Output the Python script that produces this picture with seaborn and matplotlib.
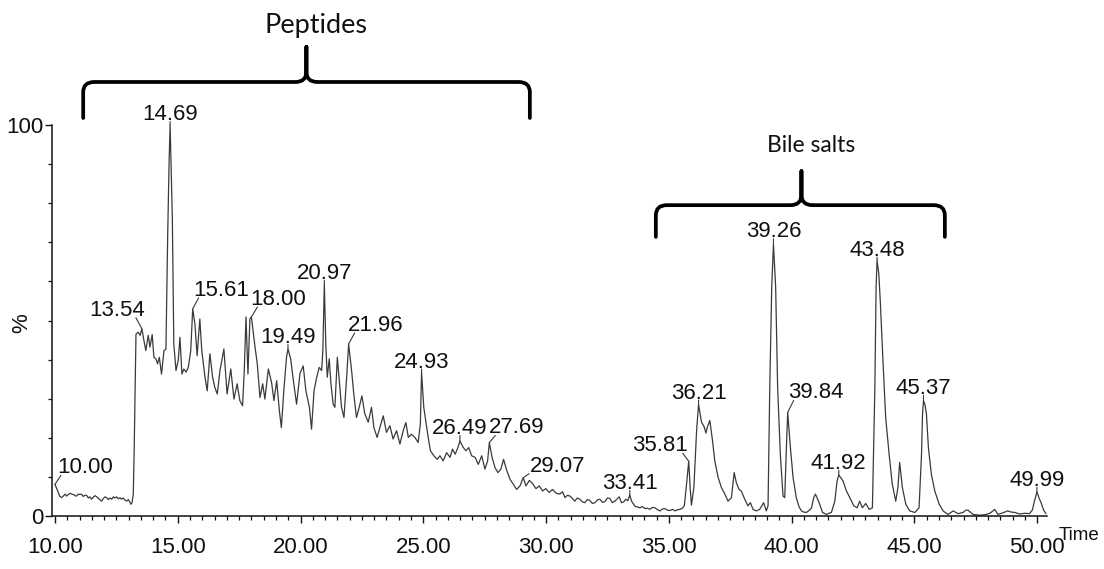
import numpy as np
import pandas as pd
import seaborn as sns
import matplotlib
matplotlib.use("Agg")
import matplotlib.pyplot as plt
from matplotlib.path import Path
from matplotlib.patches import PathPatch

# ---------------------------------------------------------------------------
# Total ion chromatogram: (retention time [min], relative abundance [%])
# ---------------------------------------------------------------------------
trace_baseline = [
    (10.00, 8.1), (10.07, 7.0), (10.13, 6.0), (10.20, 5.0), (10.27, 4.7), (10.35, 5.2),
    (10.42, 5.6), (10.47, 5.1), (10.55, 5.5), (10.62, 5.8), (10.68, 5.6), (10.75, 5.5),
    (10.82, 5.2), (10.88, 5.1), (10.95, 5.6), (11.02, 5.5), (11.08, 5.6), (11.15, 5.0),
    (11.22, 5.3), (11.29, 5.3), (11.36, 4.6), (11.42, 4.9), (11.49, 4.3), (11.56, 4.8),
    (11.63, 5.2), (11.70, 4.9), (11.77, 4.5), (11.83, 4.2), (11.90, 3.8), (11.97, 4.5),
    (12.04, 4.9), (12.10, 4.7), (12.17, 4.2), (12.24, 4.6), (12.31, 4.3), (12.38, 4.9),
    (12.44, 4.6), (12.51, 4.9), (12.58, 4.4), (12.65, 4.7), (12.71, 4.3), (12.78, 4.6),
    (12.85, 4.1), (12.92, 3.8), (12.99, 4.2), (13.05, 3.6), (13.09, 3.0), (13.14, 3.4),
    (13.19, 5.6), (13.23, 18.0), (13.26, 29.5), (13.30, 46.5),
]

trace_peptides_early = [
    (13.39, 47.0), (13.47, 46.2), (13.54, 47.9), (13.62, 45.0), (13.70, 42.3), (13.80, 46.2),
    (13.87, 43.2), (13.96, 46.4), (14.03, 40.6), (14.11, 40.2), (14.18, 38.9), (14.25, 40.6),
    (14.34, 36.3), (14.44, 42.3), (14.52, 42.7), (14.59, 71.3), (14.65, 91.0), (14.69, 100.0),
    (14.78, 76.4), (14.84, 44.0), (14.93, 37.2), (15.02, 39.8), (15.09, 45.7), (15.17, 36.3),
    (15.25, 37.6), (15.34, 36.8), (15.43, 38.0), (15.53, 42.3), (15.61, 53.0), (15.70, 49.1),
    (15.79, 41.0), (15.90, 50.4), (15.98, 42.3), (16.11, 35.5), (16.20, 32.0), (16.31, 41.5),
    (16.42, 35.5), (16.51, 32.9), (16.61, 31.2), (16.72, 37.2), (16.88, 42.7), (17.01, 31.2),
    (17.16, 37.6), (17.29, 29.9), (17.42, 33.8), (17.53, 29.5), (17.64, 28.2), (17.71, 37.2),
    (17.78, 50.9), (17.86, 36.3), (17.94, 50.4), (18.00, 50.9), (18.14, 43.6), (18.24, 38.9),
    (18.35, 30.3), (18.46, 33.8), (18.55, 29.9), (18.69, 37.6), (18.82, 34.2), (18.92, 29.5),
    (19.03, 34.6), (19.14, 26.9), (19.22, 22.6), (19.32, 32.0), (19.43, 40.6), (19.49, 42.7),
    (19.60, 40.2), (19.71, 34.6), (19.84, 28.6), (19.98, 36.5),
]

trace_peptides_late = [
    (20.11, 38.4), (20.22, 32.0), (20.36, 27.9), (20.45, 22.2), (20.55, 32.0), (20.66, 35.5),
    (20.76, 38.0), (20.86, 37.2), (20.91, 42.3), (20.97, 59.4), (21.03, 44.0), (21.09, 35.5),
    (21.17, 40.2), (21.24, 33.8), (21.33, 28.6), (21.40, 27.8), (21.50, 40.6), (21.58, 34.6),
    (21.67, 27.8), (21.77, 25.2), (21.88, 35.5), (21.96, 44.0), (22.08, 37.2), (22.17, 31.2),
    (22.28, 25.2), (22.39, 27.8), (22.50, 30.7), (22.62, 26.1), (22.76, 24.0), (22.89, 27.8),
    (22.99, 22.6), (23.12, 20.1), (23.23, 22.6), (23.37, 25.6), (23.50, 21.4), (23.64, 23.1),
    (23.77, 19.7), (23.91, 21.8), (24.05, 18.4), (24.18, 21.8), (24.29, 23.9), (24.39, 20.1),
    (24.52, 20.9), (24.66, 20.1), (24.79, 18.8), (24.88, 23.5), (24.93, 36.7), (25.02, 27.8),
    (25.10, 24.4), (25.20, 20.1), (25.29, 16.7), (25.43, 15.4), (25.57, 14.5), (25.68, 15.4),
    (25.81, 14.1), (25.95, 16.2), (26.09, 15.0), (26.19, 17.1), (26.30, 15.8), (26.41, 17.5),
    (26.49, 19.2), (26.63, 17.5), (26.74, 16.7), (26.85, 17.5), (26.97, 15.4), (27.11, 15.0),
    (27.24, 13.2), (27.38, 15.4), (27.51, 12.0), (27.62, 14.1), (27.69, 18.8), (27.80, 15.0),
    (27.92, 12.4), (28.04, 11.1), (28.16, 12.0), (28.27, 14.5), (28.38, 12.0), (28.53, 9.4),
    (28.67, 8.1), (28.80, 6.8), (28.94, 7.7), (29.07, 9.8), (29.18, 7.7), (29.32, 9.1),
    (29.45, 8.3), (29.59, 7.0), (29.72, 7.7), (29.86, 6.4), (29.99, 7.0), (30.13, 6.0),
    (30.26, 6.8),
]

trace_middle = [
    (30.42, 5.8), (30.56, 5.6), (30.67, 6.2), (30.77, 4.7), (30.87, 5.3), (30.97, 5.1),
    (31.07, 4.5), (31.17, 3.8), (31.27, 4.6), (31.38, 4.3), (31.48, 3.6), (31.58, 3.4),
    (31.68, 4.2), (31.78, 4.0), (31.89, 3.2), (31.99, 3.4), (32.09, 4.1), (32.19, 4.3),
    (32.30, 3.5), (32.40, 3.7), (32.50, 4.6), (32.60, 4.5), (32.70, 3.4), (32.80, 3.8),
    (32.90, 4.4), (32.98, 4.9), (33.07, 3.4), (33.16, 3.6), (33.25, 4.3), (33.33, 3.9),
    (33.41, 5.4), (33.48, 3.8), (33.62, 2.5), (33.72, 2.3), (33.82, 2.1), (33.92, 2.4),
    (34.03, 1.9), (34.13, 2.0), (34.23, 1.7), (34.33, 2.2), (34.43, 2.1), (34.54, 1.6),
    (34.64, 1.3), (34.74, 1.8), (34.84, 1.9), (34.94, 1.5), (35.04, 1.4), (35.15, 1.7),
    (35.25, 1.3), (35.35, 1.6), (35.45, 1.7), (35.55, 2.0), (35.63, 2.6), (35.72, 8.1),
    (35.81, 14.0), (35.87, 7.0), (35.92, 2.8), (36.02, 7.3), (36.13, 21.8), (36.21, 28.5),
    (36.33, 24.0), (36.44, 22.8), (36.51, 21.2), (36.57, 22.8), (36.67, 24.4), (36.78, 19.2),
    (36.87, 14.1), (37.01, 9.8), (37.14, 7.3), (37.28, 5.6), (37.41, 3.8), (37.55, 4.7),
    (37.66, 11.1), (37.75, 8.5), (37.86, 6.8), (37.95, 6.4), (38.09, 4.3), (38.22, 2.6),
    (38.32, 3.4), (38.43, 1.7), (38.56, 1.3), (38.70, 1.7), (38.86, 3.4), (38.97, 1.3),
    (39.04, 2.6),
]

trace_bile_salts = [
    (39.11, 32.9), (39.19, 58.5), (39.26, 69.5), (39.35, 58.5), (39.43, 32.9), (39.54, 15.8),
    (39.65, 5.1), (39.72, 4.7), (39.79, 18.0), (39.84, 26.5), (39.95, 17.5), (40.06, 9.8),
    (40.19, 4.7), (40.30, 2.4), (40.40, 1.3), (40.50, 1.0), (40.60, 0.9), (40.71, 1.4),
    (40.81, 2.1), (40.90, 4.7), (40.97, 5.6), (41.06, 4.3), (41.12, 3.4), (41.26, 0.9),
    (41.42, 0.4), (41.52, 0.7), (41.62, 0.9), (41.76, 3.8), (41.85, 8.9), (41.92, 10.5),
    (42.02, 9.6), (42.10, 8.9), (42.23, 6.4), (42.37, 4.7), (42.53, 2.6), (42.67, 2.1),
    (42.77, 3.8), (42.88, 2.1), (43.02, 3.2), (43.16, 1.7), (43.29, 2.1), (43.39, 32.9),
    (43.44, 58.5), (43.48, 65.3), (43.55, 62.0), (43.61, 55.0), (43.72, 39.7), (43.83, 25.2),
    (43.97, 15.8), (44.10, 8.1), (44.24, 3.8), (44.33, 7.3), (44.40, 13.7), (44.51, 7.3),
    (44.65, 3.0), (44.81, 1.3), (45.02, 0.9), (45.19, 2.1), (45.29, 15.8), (45.33, 26.0),
    (45.37, 29.5), (45.43, 28.5), (45.49, 26.1), (45.57, 17.5), (45.69, 10.7), (45.83, 6.4),
    (46.01, 3.0), (46.17, 1.3), (46.37, 0.4), (46.58, 1.3), (46.78, 0.6), (46.98, 0.9),
    (47.10, 1.5), (47.18, 1.5), (47.39, 0.4), (47.66, 0.2), (47.93, 0.4), (48.10, 0.8),
    (48.27, 1.7), (48.40, 0.4), (48.60, 0.8), (48.80, 1.3), (48.95, 1.0), (49.10, 0.9),
    (49.28, 0.5), (49.50, 0.7), (49.69, 0.6), (49.80, 1.5), (49.89, 3.8), (49.99, 6.2),
    (50.08, 4.5), (50.16, 3.4), (50.26, 1.5), (50.36, 0.6),
]

# Retention times printed above the peaks
peak_labels = [10.00, 13.54, 14.69, 15.61, 18.00, 19.49, 20.97, 21.96, 24.93, 26.49, 27.69,
               29.07, 33.41, 35.81, 36.21, 39.26, 39.84, 41.92, 43.48, 45.37, 49.99]

# Axis ticks
x_ticks = [10, 15, 20, 25, 30, 35, 40, 45, 50]
x_tick_labels = ["10.00", "15.00", "20.00", "25.00", "30.00", "35.00", "40.00", "45.00", "50.00"]
y_ticks = [0, 100]
y_tick_labels = ["0", "100"]

# Compound classes marked with braces: (name, start, end)
regions = [("Peptides", 11.15, 29.34), ("Bile salts", 34.47, 46.24)]

# ---------------------------------------------------------------------------
# Layout
# ---------------------------------------------------------------------------
# text offset (pixels, baseline-centre relative to the peak apex)
label_offsets = {
    10.00: (30, 11), 13.54: (-25, 13), 14.69: (0, 5), 15.61: (28, 13), 18.00: (27, 12),
    19.49: (0, 6), 20.97: (0, 5), 21.96: (27, 13), 24.93: (0, 5), 26.49: (0, 7),
    27.69: (27, 9), 29.07: (34, 6), 33.41: (0, 6), 35.81: (-29, 10), 36.21: (0, 6),
    39.26: (0, 7), 39.84: (28, 14), 41.92: (0, 6), 43.48: (0, 5), 45.37: (0, 7), 49.99: (0, 6),
}
# brace geometry per region: (centre, y of the ends, y of the bar, y of the tip,
#                             label x, label y, label size)
brace_geometry = {
    "Peptides": (20.24, 101.8, 111.0, 120.0, 20.63, 123.6, 19.5),
    "Bile salts": (40.40, 71.4, 79.5, 88.2, 40.81, 93.2, 16.5),
}

W, H = 1104, 569
TRACE = "#3a3a3a"
INK = "#111111"

sns.set_style("ticks")
plt.rcParams["font.family"] = ["Liberation Sans", "DejaVu Sans"]
plt.rcParams["axes.edgecolor"] = INK

fig = plt.figure(figsize=(W / 100, H / 100), dpi=100)
ax = fig.add_axes([52 / W, 1 - 516 / H, (1047 - 52) / W, (516 - 125) / H])

segments = [trace_baseline, trace_peptides_early, trace_peptides_late, trace_middle, trace_bile_salts]
points = [p for seg in segments for p in seg]
df = pd.DataFrame(points, columns=["time", "abundance"])

sns.lineplot(data=df, x="time", y="abundance", ax=ax, color=TRACE, lw=0.9,
             estimator=None, sort=False, clip_on=False)

ax.set_xlim(9.88, 50.4)
ax.set_ylim(0, 100)
ax.set_xlabel("")
ax.set_ylabel("")
sns.despine(ax=ax)
for side in ("left", "bottom"):
    ax.spines[side].set_linewidth(1.1)

ax.set_xticks(x_ticks)
ax.set_xticklabels(x_tick_labels)
ax.set_xticks(np.arange(10, 50.01, 0.5), minor=True)
ax.set_yticks(y_ticks)
ax.set_yticklabels(y_tick_labels)
ax.set_yticks(np.arange(10, 91, 10), minor=True)
ax.tick_params(axis="both", which="major", direction="out", length=5, width=1,
               colors=INK, labelsize=16, pad=1)
ax.tick_params(axis="both", which="minor", direction="out", length=3, width=0.9, colors=INK)
ax.tick_params(axis="x", which="major", pad=10)

# peak retention-time labels with short leader lines
times = df["time"].to_numpy()
vals = df["abundance"].to_numpy()
for t in peak_labels:
    i = int(np.argmin(np.abs(times - t)))
    y = vals[i]
    dx, dy = label_offsets[t]
    ax.annotate(f"{t:.2f}", xy=(t, y), xytext=(dx, dy), textcoords="offset pixels",
                ha="center", va="baseline", fontsize=16, color=INK, annotation_clip=False)
    lx = 0 if dx == 0 else 6 * np.sign(dx)
    ly = dy - 1.5 if dx == 0 else dy - 2
    ax.annotate("", xy=(t, y), xytext=(lx, ly), textcoords="offset pixels",
                annotation_clip=False,
                arrowprops=dict(arrowstyle="-", lw=0.8, color=TRACE, shrinkA=0, shrinkB=0))

# curly braces marking the compound classes
rx, ry = 0.45, 2.6
for name, x0, x1 in regions:
    xm, y_end, y_bar, y_tip, tx, ty, size = brace_geometry[name]
    verts = [
        (x0, y_end), (x0, y_bar - ry), (x0, y_bar), (x0 + rx, y_bar),
        (xm - rx, y_bar), (xm, y_bar), (xm, y_bar + ry), (xm, y_tip),
        (xm, y_bar + ry), (xm, y_bar), (xm + rx, y_bar),
        (x1 - rx, y_bar), (x1, y_bar), (x1, y_bar - ry), (x1, y_end),
    ]
    codes = [
        Path.MOVETO, Path.LINETO, Path.CURVE3, Path.CURVE3,
        Path.LINETO, Path.CURVE3, Path.CURVE3, Path.LINETO,
        Path.LINETO, Path.CURVE3, Path.CURVE3,
        Path.LINETO, Path.CURVE3, Path.CURVE3, Path.LINETO,
    ]
    brace = PathPatch(Path(verts, codes), fill=False, lw=2.7, edgecolor="black",
                      capstyle="round", joinstyle="round", clip_on=False)
    ax.add_patch(brace)
    ax.text(tx, ty, name, ha="center", va="baseline", fontsize=size,
            family=["Lato", "DejaVu Sans"], color=INK, clip_on=False)

fig.text(22 / W, 1 - 323 / H, "%", rotation=90, ha="center", va="center", fontsize=16, color=INK)
fig.text(1059 / W, 1 - 536 / H, "Time", ha="left", va="center", fontsize=13.5, color=INK)

fig.savefig("out.png", dpi=100)
